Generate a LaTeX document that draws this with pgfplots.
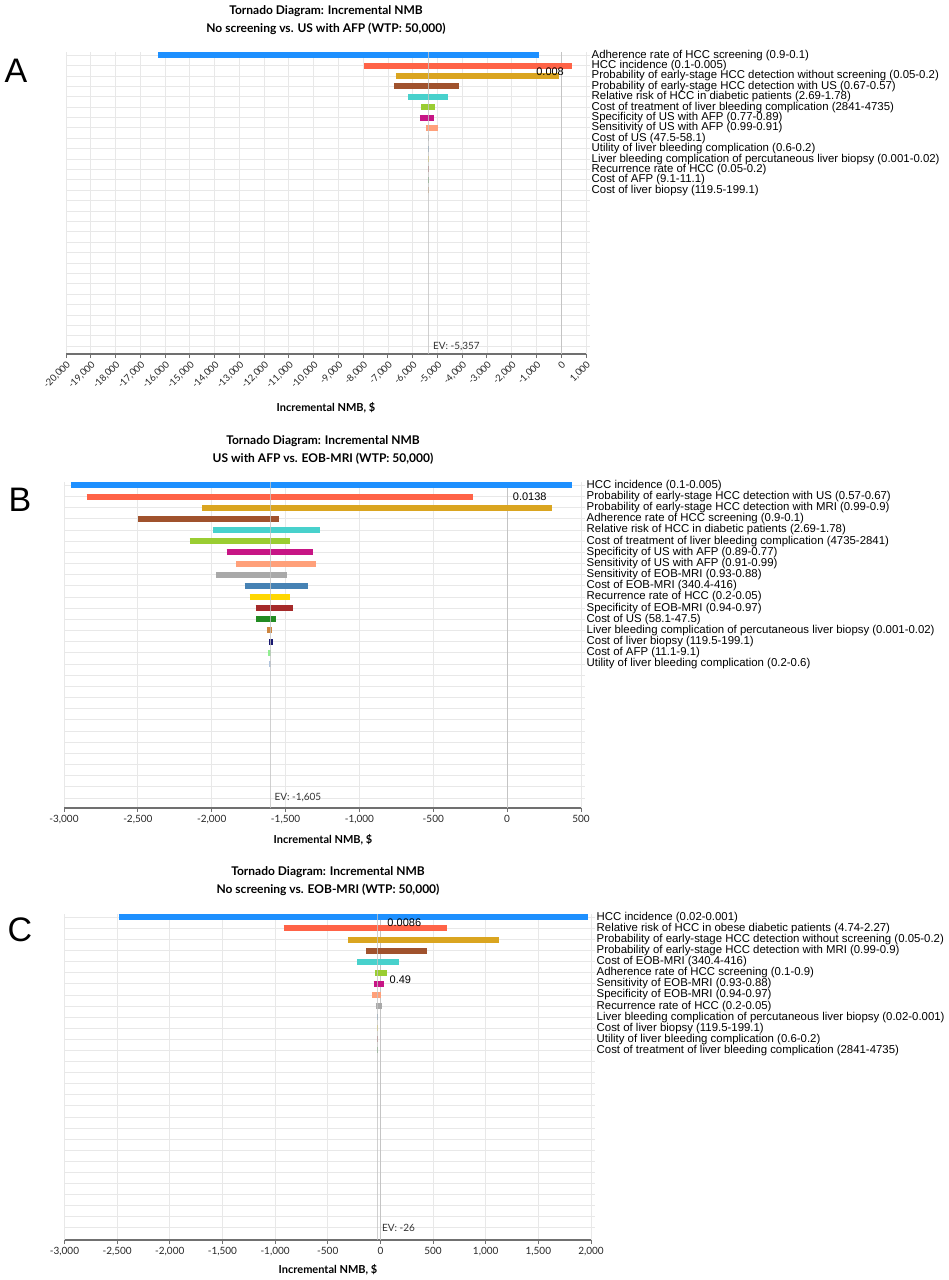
\documentclass[border=0pt]{standalone}
\usepackage{pgfplots}
\pgfplotsset{compat=1.18}
\usepackage{fontspec}
\setmainfont{Liberation Sans}
\newfontfamily\uifont{Lato}

\definecolor{c1}{HTML}{1E90FF}
\definecolor{c2}{HTML}{FF6347}
\definecolor{c3}{HTML}{DAA520}
\definecolor{c4}{HTML}{A0522D}
\definecolor{c5}{HTML}{48D1CC}
\definecolor{c6}{HTML}{9ACD32}
\definecolor{c7}{HTML}{C71585}
\definecolor{c8}{HTML}{FFA07A}
\definecolor{c9}{HTML}{A9A9A9}
\definecolor{c10}{HTML}{4682B4}
\definecolor{c11}{HTML}{FFD700}
\definecolor{c12}{HTML}{A52A2A}
\definecolor{c13}{HTML}{228B22}
\definecolor{c14}{HTML}{CD853F}
\definecolor{c15}{HTML}{191970}
\definecolor{c16}{HTML}{90EE90}
\definecolor{c17}{HTML}{B0C4DE}
\definecolor{gridgray}{HTML}{E8E8E8}
\definecolor{axisgray}{HTML}{707070}
\definecolor{refgray}{HTML}{C4C4C4}

% one tornado bar: colour, row, low, high
\newcommand{\tbar}[4]{\addplot[draw=#1, line width=6pt, forget plot] coordinates {(#3,#2) (#4,#2)};}

\pgfplotsset{
  tornado/.style={
    scale only axis,
    y dir=reverse,
    ymin=0.7,
    axis x line*=bottom,
    axis y line*=right,
    y axis line style={draw=none},
    x axis line style={draw=axisgray, line width=1.2pt},
    xmajorgrids, ymajorgrids,
    grid style={draw=gridgray, line width=0.8pt},
    tick align=outside,
    major tick length=4pt,
    x tick style={draw=axisgray, line width=1pt},
    y tick style={draw=gridgray, line width=0.8pt},
    yticklabel style={font=\fontsize{11.4}{11.4}\selectfont, inner sep=1.5pt},
    xticklabel style={font=\uifont\fontsize{10}{10}\selectfont, text=black!85},
    scaled x ticks=false,
    /pgf/number format/1000 sep={,},
    /pgf/number format/assume math mode=true,
    extra y tick labels={},
  },
}

\begin{document}
\begin{tikzpicture}
\useasboundingbox (0,0) rectangle (949pt,-1280pt);

% ---------------- A ----------------
\node[font=\uifont\bfseries\fontsize{12}{12}\selectfont] at (326pt,-11pt) {Tornado Diagram: Incremental NMB};
\node[font=\uifont\bfseries\fontsize{12}{12}\selectfont] at (326pt,-29pt) {No screening vs. US with AFP (WTP: 50,000)};
\node[font=\fontsize{34}{34}\selectfont] at (16pt,-71pt) {A};
\begin{axis}[tornado,
  at={(66pt,-354pt)}, anchor=south west,
  width=520pt, height=302pt,
  xmin=-20000, xmax=1000, ymax=29.75,
  xtick={-20000,-19000,...,1000},
  xticklabel style={rotate=45, anchor=north east, font=\uifont\fontsize{9.5}{9.5}\selectfont, inner sep=1.5pt},
  ytick={1,...,14},
  extra y ticks={15,...,29},
  yticklabels={
    {Adherence rate of HCC screening (0.9-0.1)},
    {HCC incidence (0.1-0.005)},
    {Probability of early-stage HCC detection without screening (0.05-0.2)},
    {Probability of early-stage HCC detection with US (0.67-0.57)},
    {Relative risk of HCC in diabetic patients (2.69-1.78)},
    {Cost of treatment of liver bleeding complication (2841-4735)},
    {Specificity of US with AFP (0.77-0.89)},
    {Sensitivity of US with AFP (0.99-0.91)},
    {Cost of US (47.5-58.1)},
    {Utility of liver bleeding complication (0.6-0.2)},
    {Liver bleeding complication of percutaneous liver biopsy (0.001-0.02)},
    {Recurrence rate of HCC (0.05-0.2)},
    {Cost of AFP (9.1-11.1)},
    {Cost of liver biopsy (119.5-199.1)}},
]
\addplot[refgray, line width=1pt, forget plot] coordinates {(0,0.7) (0,29.75)};
\tbar{c1}{1}{-16284}{-894}
\tbar{c2}{2}{-7957}{447}
\tbar{c3}{3}{-6677}{-77}
\tbar{c4}{4}{-6754}{-4133}
\tbar{c5}{5}{-6183}{-4564}
\tbar{c6}{6}{-5659}{-5089}
\tbar{c7}{7}{-5705}{-5135}
\tbar{c8}{8}{-5474}{-4980}
\tbar{c9}{9}{-5380}{-5340}
\tbar{c10}{10}{-5375}{-5345}
\tbar{c11}{11}{-5372}{-5345}
\tbar{c12}{12}{-5370}{-5345}
\tbar{c13}{13}{-5368}{-5348}
\tbar{c14}{14}{-5365}{-5350}
\addplot[refgray, line width=1pt, opacity=0.8, forget plot] coordinates {(-5357,0.7) (-5357,29.75)};
\node[font=\fontsize{11}{11}\selectfont] at (axis cs:-450,2.6) {0.008};
\node[anchor=west, font=\uifont\fontsize{10}{10}\selectfont, text=black!80, xshift=1pt] at (axis cs:-5357,29) {EV: -5,357};
\end{axis}
\node[font=\uifont\bfseries\fontsize{11}{11}\selectfont] at (326pt,-408pt) {Incremental NMB, \$};

% ---------------- B ----------------
\node[font=\uifont\bfseries\fontsize{12}{12}\selectfont] at (323pt,-441pt) {Tornado Diagram: Incremental NMB};
\node[font=\uifont\bfseries\fontsize{12}{12}\selectfont] at (323pt,-459pt) {US with AFP vs. EOB-MRI (WTP: 50,000)};
\node[font=\fontsize{34}{34}\selectfont] at (20pt,-500pt) {B};
\begin{axis}[tornado,
  at={(64pt,-808pt)}, anchor=south west,
  width=517pt, height=326pt,
  xmin=-3000, xmax=500, ymax=29.9,
  xtick={-3000,-2500,...,500},
  ytick={1,...,17},
  extra y ticks={18,...,29},
  yticklabels={
    {HCC incidence (0.1-0.005)},
    {Probability of early-stage HCC detection with US (0.57-0.67)},
    {Probability of early-stage HCC detection with MRI (0.99-0.9)},
    {Adherence rate of HCC screening (0.9-0.1)},
    {Relative risk of HCC in diabetic patients (2.69-1.78)},
    {Cost of treatment of liver bleeding complication (4735-2841)},
    {Specificity of US with AFP (0.89-0.77)},
    {Sensitivity of US with AFP (0.91-0.99)},
    {Sensitivity of EOB-MRI (0.93-0.88)},
    {Cost of EOB-MRI (340.4-416)},
    {Recurrence rate of HCC (0.2-0.05)},
    {Specificity of EOB-MRI (0.94-0.97)},
    {Cost of US (58.1-47.5)},
    {Liver bleeding complication of percutaneous liver biopsy (0.001-0.02)},
    {Cost of liver biopsy (119.5-199.1)},
    {Cost of AFP (11.1-9.1)},
    {Utility of liver bleeding complication (0.2-0.6)}},
]
\addplot[refgray, line width=1pt, forget plot] coordinates {(0,0.7) (0,29.9)};
\tbar{c1}{1}{-2953}{440}
\tbar{c2}{2}{-2847}{-231}
\tbar{c3}{3}{-2065}{303}
\tbar{c4}{4}{-2497}{-1544}
\tbar{c5}{5}{-1992}{-1264}
\tbar{c6}{6}{-2150}{-1472}
\tbar{c7}{7}{-1899}{-1316}
\tbar{c8}{8}{-1834}{-1295}
\tbar{c9}{9}{-1969}{-1487}
\tbar{c10}{10}{-1777}{-1350}
\tbar{c11}{11}{-1744}{-1472}
\tbar{c12}{12}{-1702}{-1448}
\tbar{c13}{13}{-1697}{-1565}
\tbar{c14}{14}{-1627}{-1591}
\tbar{c15}{15}{-1609}{-1588}
\tbar{c16}{16}{-1617}{-1598}
\tbar{c17}{17}{-1609}{-1602}
\addplot[refgray, line width=1pt, opacity=0.8, forget plot] coordinates {(-1605,0.7) (-1605,29.9)};
\node[font=\fontsize{11}{11}\selectfont] at (axis cs:153,2) {0.0138};
\node[anchor=west, font=\uifont\fontsize{10}{10}\selectfont, text=black!80, xshift=1pt] at (axis cs:-1605,29) {EV: -1,605};
\end{axis}
\node[font=\uifont\bfseries\fontsize{11}{11}\selectfont] at (323pt,-840pt) {Incremental NMB, \$};

% ---------------- C ----------------
\node[font=\uifont\bfseries\fontsize{12}{12}\selectfont] at (328pt,-872pt) {Tornado Diagram: Incremental NMB};
\node[font=\uifont\bfseries\fontsize{12}{12}\selectfont] at (328pt,-890pt) {No screening vs. EOB-MRI (WTP: 50,000)};
\node[font=\fontsize{34}{34}\selectfont] at (20pt,-930pt) {C};
\begin{axis}[tornado,
  at={(64.5pt,-1240pt)}, anchor=south west,
  width=526.5pt, height=326pt,
  xmin=-3000, xmax=2000, ymax=30.1,
  xtick={-3000,-2500,...,2000},
  ytick={1,...,13},
  extra y ticks={14,...,29},
  yticklabels={
    {HCC incidence (0.02-0.001)},
    {Relative risk of HCC in obese diabetic patients (4.74-2.27)},
    {Probability of early-stage HCC detection without screening (0.05-0.2)},
    {Probability of early-stage HCC detection with MRI (0.99-0.9)},
    {Cost of EOB-MRI (340.4-416)},
    {Adherence rate of HCC screening (0.1-0.9)},
    {Sensitivity of EOB-MRI (0.93-0.88)},
    {Specificity of EOB-MRI (0.94-0.97)},
    {Recurrence rate of HCC (0.2-0.05)},
    {Liver bleeding complication of percutaneous liver biopsy (0.02-0.001)},
    {Cost of liver biopsy (119.5-199.1)},
    {Utility of liver bleeding complication (0.6-0.2)},
    {Cost of treatment of liver bleeding complication (2841-4735)}},
]
\addplot[refgray, line width=1pt, forget plot] coordinates {(0,0.7) (0,30.1)};
\tbar{c1}{1}{-2487}{1972}
\tbar{c2}{2}{-920}{631}
\tbar{c3}{3}{-308}{1127}
\tbar{c4}{4}{-135}{440}
\tbar{c5}{5}{-218}{173}
\tbar{c6}{6}{-53}{64}
\tbar{c7}{7}{-64}{34}
\tbar{c8}{8}{-79}{4}
\tbar{c9}{9}{-45}{15}
\tbar{c10}{10}{-32}{-22}
\tbar{c11}{11}{-29}{-23}
\tbar{c12}{12}{-30}{-22}
\tbar{c13}{13}{-28}{-24}
\addplot[refgray, line width=1pt, opacity=0.8, forget plot] coordinates {(-26,0.7) (-26,30.1)};
\node[font=\fontsize{11}{11}\selectfont] at (axis cs:227,1.5) {0.0086};
\node[font=\fontsize{11}{11}\selectfont] at (axis cs:190,6.6) {0.49};
\node[anchor=west, font=\uifont\fontsize{10}{10}\selectfont, text=black!80, xshift=1pt] at (axis cs:-26,29) {EV: -26};
\end{axis}
\node[font=\uifont\bfseries\fontsize{11}{11}\selectfont] at (328pt,-1270pt) {Incremental NMB, \$};
\end{tikzpicture}
\end{document}
